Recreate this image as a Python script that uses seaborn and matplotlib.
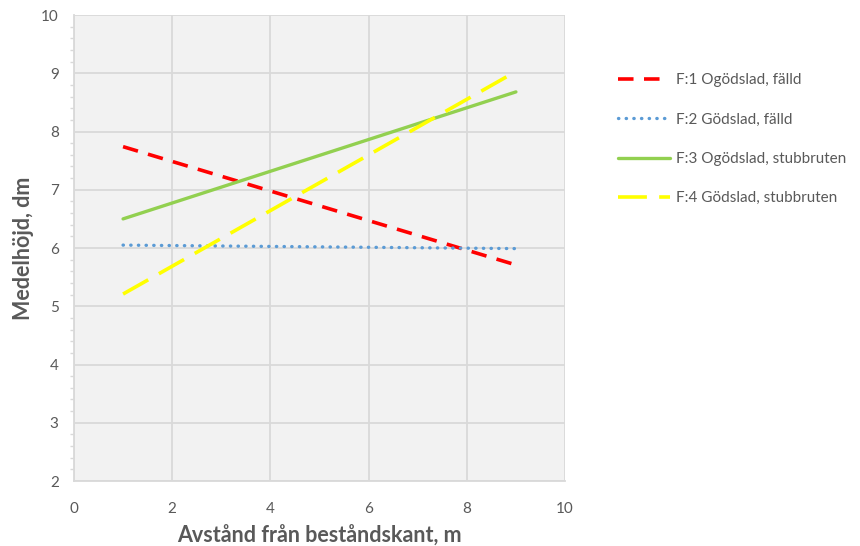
import matplotlib
matplotlib.use("Agg")
import matplotlib.pyplot as plt
import seaborn as sns
import pandas as pd

# Trend lines: distance from stand edge (m) vs mean height (dm)
distance = [1, 9]
f1_ogodslad_falld = [7.74, 5.71]
f2_godslad_falld = [6.05, 5.99]
f3_ogodslad_stubbruten = [6.50, 8.68]
f4_godslad_stubbruten = [5.21, 9.03]

labels = ["F:1 Ogödslad, fälld", "F:2 Gödslad, fälld",
          "F:3 Ogödslad, stubbruten", "F:4 Gödslad, stubbruten"]
series = [f1_ogodslad_falld, f2_godslad_falld,
          f3_ogodslad_stubbruten, f4_godslad_stubbruten]
colors = ["#FF0000", "#5B9BD5", "#92D050", "#FFFF00"]
styles = [
    dict(linestyle=(0, (4.3, 2.9)), linewidth=2.6, dash_capstyle="butt"),
    dict(linestyle=(0, (0.1, 2.2)), linewidth=2.4, dash_capstyle="round"),
    dict(linestyle="-", linewidth=2.4),
    dict(linestyle=(0, (8.0, 3.4)), linewidth=2.6, dash_capstyle="butt"),
]

sns.set_theme(style="white")
plt.rcParams["font.family"] = ["Lato", "DejaVu Sans"]

gray_text = "#595959"
grid_col = "#D9D9D9"

fig = plt.figure(figsize=(8.6, 5.46), dpi=100)
ax = fig.add_axes([0.086, 0.119, 0.571, 0.8535])
ax.set_facecolor("#F2F2F2")

for vals, lab, col, st in zip(series, labels, colors, styles):
    df = pd.DataFrame({"x": distance, "y": vals})
    sns.lineplot(data=df, x="x", y="y", ax=ax, color=col, label=lab,
                 sort=False, **st)

ax.set_xlim(0, 10)
ax.set_ylim(2, 10)
ax.set_xticks(range(0, 11, 2))
ax.set_yticks(range(2, 11, 1))
ax.set_yticks([2 + 0.2 * i for i in range(41)], minor=True)
ax.grid(True, which="major", color=grid_col, linewidth=1.3)
ax.set_axisbelow(True)

for side in ["top", "right"]:
    ax.spines[side].set_visible(False)
for side in ["left", "bottom"]:
    ax.spines[side].set_color(grid_col)
    ax.spines[side].set_linewidth(1.3)

ax.tick_params(axis="both", which="major", length=5, width=1.3, color=grid_col,
               labelsize=11, labelcolor=gray_text, pad=6, direction="out")
ax.tick_params(axis="y", which="minor", length=3, width=1.0, color=grid_col,
               direction="out", left=True)
ax.tick_params(axis="x", which="major", pad=10)

ax.set_xlabel("Avstånd från beståndskant, m", fontsize=15.5, fontweight="bold",
              color=gray_text, labelpad=7)
ax.set_ylabel("Medelhöjd, dm", fontsize=15.5, fontweight="bold",
              color=gray_text, labelpad=5)

handles, labs = ax.get_legend_handles_labels()
ax.legend_.remove()
fig.legend(handles, labs, loc="upper left", bbox_to_anchor=(0.703, 0.891),
           frameon=False, fontsize=11, labelcolor=gray_text,
           handlelength=3.4, handletextpad=0.4, labelspacing=1.66)

fig.savefig("out.png", dpi=100, facecolor="white")
